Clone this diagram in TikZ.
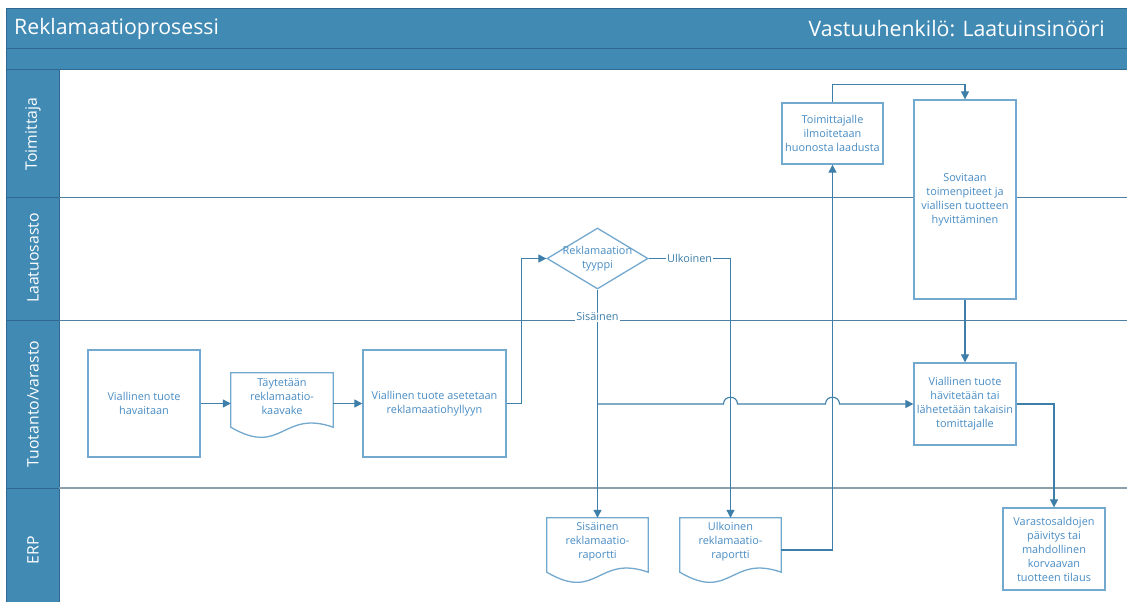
\documentclass[tikz,border=0pt]{standalone}
\usepackage{fontspec}
\setmainfont{Open Sans}
\usetikzlibrary{arrows.meta,shapes.geometric,calc}

\definecolor{hdr}{HTML}{408AB4}
\definecolor{hdrline}{HTML}{2F6890}
\definecolor{boxline}{HTML}{74A9CF}
\definecolor{boxtext}{HTML}{4A8DC4}
\definecolor{conn}{HTML}{3E7FA9}
\definecolor{laneline}{HTML}{4F7FA3}
\definecolor{lanegrey}{HTML}{8C9FAD}

\tikzset{
  bodyfont/.style={font=\fontsize{10.9}{14}\selectfont},
  proc/.style={draw=boxline, line width=1.3pt, fill=white, text=boxtext,
    align=center, inner sep=0pt, bodyfont},
  docnode/.style={text=boxtext, align=center, inner sep=0pt, bodyfont},
  docline/.style={draw=boxline, line width=1.3pt},
  decision/.style={diamond, draw=boxline, line width=1.3pt, fill=white, inner sep=0pt},
  txt/.style={text=boxtext, align=center, inner sep=0pt, bodyfont},
  flow/.style={draw=conn, line width=1.1pt},
  arr/.style={flow, -{Triangle[length=8pt,width=8pt]}},
  lbl/.style={fill=white, text=conn, inner sep=1pt, bodyfont},
  lanename/.style={text=white, rotate=90, font=\fontsize{15.8}{18}\selectfont},
  headtext/.style={text=white, font=\fontsize{21.3}{24}\selectfont, inner sep=0pt},
}

% document outline with a wavy lower edge
\newcommand\docoutline[1]{%
  \draw[docline] (#1.north west) -- (#1.north east) -- ($(#1.south east)+(0,6)$)
    .. controls ($(#1.south)+(0,-12)$) and ($(#1.south)+(0,36)$) ..
    ($(#1.south west)+(0,6)$) -- cycle;}

\begin{document}
\begin{tikzpicture}[x=1pt,y=-1pt]
\useasboundingbox (0,0) rectangle (1127,602);
\fill[white] (0,0) rectangle (1127,602);

% header bands
\filldraw[fill=hdr, draw=hdrline, line width=1pt] (6,9) rectangle (1132,49);
\filldraw[fill=hdr, draw=hdrline, line width=1pt] (6,49) rectangle (1132,70);
\node[headtext, anchor=west] (title) at (14,29) {Reklamaatioprosessi};
\node[headtext, anchor=east] (owner) at (1105,29) {Vastuuhenkilö: Laatuinsinööri};

% lane name column
\filldraw[fill=hdr, draw=hdrline, line width=1pt] (6,70) rectangle (59,606);
\draw[hdrline, line width=1pt] (6,197) -- (59,197);
\draw[hdrline, line width=1pt] (6,320) -- (59,320);
\draw[hdrline, line width=1pt] (6,488) -- (59,488);

% lane separators
\draw[laneline, line width=1pt] (59,197) -- (1132,197);
\draw[laneline, line width=1pt] (59,320) -- (1132,320);
\draw[lanegrey, line width=1.6pt] (59,488) -- (1132,488);

\node[lanename] (l1) at (33,134) {Toimittaja};
\node[lanename] (l2) at (33,258) {Laatuosasto};
\node[lanename] (l3) at (33,404) {Tuotanto/varasto};
\node[lanename] (l4) at (33,550) {ERP};

% process steps
\node[proc, minimum width=112, minimum height=107] (havaitaan) at (144,403.5)
  {Viallinen tuote\\havaitaan};
\node[docnode, minimum width=102, minimum height=48] (form) at (282,397)
  {Täytetään\\reklamaatio-\\kaavake};
\docoutline{form}
\node[proc, minimum width=143, minimum height=107] (hylly) at (434.5,403.5)
  {Viallinen tuote asetetaan\\reklamaatiohyllyyn};
\node[decision, minimum width=101, minimum height=61] (tyyppi) at (597.5,258.5) {};
\node[txt] (tyyppitxt) at (tyyppi) {Reklamaation\\tyyppi};
\node[docnode, minimum width=101, minimum height=48] (sis) at (597.5,542)
  {Sisäinen\\reklamaatio-\\raportti};
\docoutline{sis}
\node[docnode, minimum width=101, minimum height=48] (ulk) at (730.5,542)
  {Ulkoinen\\reklamaatio-\\raportti};
\docoutline{ulk}
\node[proc, minimum width=101, minimum height=61] (ilm) at (832.5,133.5)
  {Toimittajalle\\ilmoitetaan\\huonosta laadusta};
\node[proc, minimum width=102, minimum height=199] (sov) at (965,199.5)
  {Sovitaan\\toimenpiteet ja\\viallisen tuotteen\\hyvittäminen};
\node[proc, minimum width=102, minimum height=82] (havit) at (965,404)
  {Viallinen tuote\\hävitetään tai\\lähetetään takaisin\\tomittajalle};
\node[proc, minimum width=102, minimum height=82] (var) at (1054,549)
  {Varastosaldojen\\päivitys tai\\mahdollinen\\korvaavan\\tuotteen tilaus};

% connectors
\draw[arr] (havaitaan.east) -- (havaitaan.east -| form.west);
\draw[arr] (hylly.west -| form.east) -- (hylly.west);
\draw[arr] (hylly.east) -- ++(15,0) |- (tyyppi.west);
\draw[arr] (tyyppi.east) -- node[lbl] {Ulkoinen} (tyyppi.east -| ulk.north) -- (ulk.north);
\draw[arr] (tyyppi.south) -- node[lbl, pos=0.12] {Sisäinen} (sis.north);
\coordinate (split) at (tyyppi.south |- havit.west);
\draw[arr] (split) -- ($(split -| ulk.north)+(-7,0)$)
  .. controls +(0,-9) and +(0,-9) .. ++(14,0)
  -- ($(split -| ilm.south)+(-7,0)$)
  .. controls +(0,-9) and +(0,-9) .. ++(14,0)
  -- (havit.west);
\draw[arr] ($(ulk.east)+(0,8)$) -| (ilm.south);
\draw[arr] (ilm.north) -- ++(0,-18) -| (sov.north);
\draw[arr] (sov.south) -- (havit.north);
\draw[arr] (havit.east) -| (var.north);
\end{tikzpicture}
\end{document}
